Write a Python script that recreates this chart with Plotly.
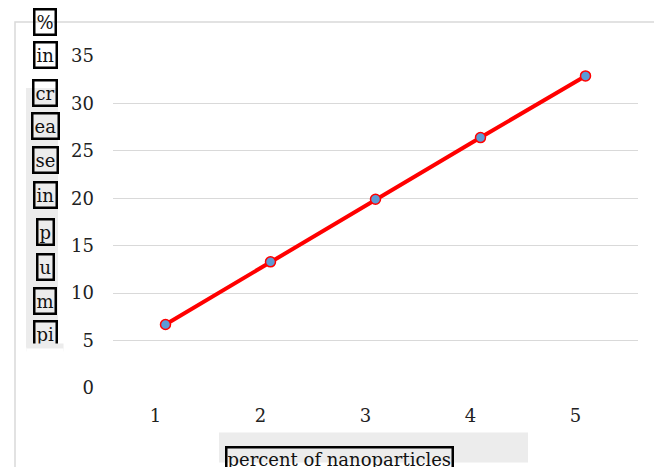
import plotly.graph_objects as go

# data
percent = [1, 2, 3, 4, 5]
increase = [6.7, 13.3, 19.9, 26.4, 32.9]
y_ticks = [0, 5, 10, 15, 20, 25, 30, 35]
y_title_parts = ["%", "in", "cr", "ea", "se", "in", "p", "u", "m", "pi"]
x_title = "percent of nanoparticles"

# the page has an 8px body margin, so the figure is shifted by that
OFF = 8
W, H = 662 - OFF, 467 - OFF
L, R, T, B = 105, 24, 48, 78.5
PW, PH = W - L - R, H - T - B
FONT = "DejaVu Serif, Liberation Serif, serif"


def px(x):
    return (x - OFF - L) / PW


def py(y):
    return (H - B - (y - OFF)) / PH


fig = go.Figure()
fig.add_trace(go.Scatter(x=percent, y=increase, mode="lines+markers",
                         line=dict(color="#ff0000", width=4),
                         marker=dict(size=10, color="#5b9bd5",
                                     line=dict(color="#ff0000", width=1.5)),
                         showlegend=False, cliponaxis=False))

shapes = [
    # outer chart border
    dict(type="rect", xref="paper", yref="paper",
         x0=px(15), x1=px(660), y0=py(490), y1=py(22),
         line=dict(color="#d9d9d9", width=1.5), layer="below"),
    # grey box behind y title
    dict(type="rect", xref="paper", yref="paper",
         x0=px(26), x1=px(58), y0=py(348), y1=py(88),
         fillcolor="#ececec", line=dict(width=0), layer="below"),
    # grey box behind x title
    dict(type="rect", xref="paper", yref="paper",
         x0=px(219), x1=px(528), y0=py(463), y1=py(433),
         fillcolor="#ececec", line=dict(width=0), layer="below"),
]

annotations = []
centers = [22, 55, 93, 126, 160, 195, 232, 267, 301, 334]
for txt, cy in zip(y_title_parts, centers):
    annotations.append(dict(text=txt, xref="paper", yref="paper",
                            x=px(45), y=py(cy), xanchor="center", yanchor="middle",
                            showarrow=False, font=dict(family=FONT, size=18, color="#111"),
                            bordercolor="black", borderwidth=2.5, borderpad=1))
# cut off the last box like the reference
annotations.append(dict(text="", xref="paper", yref="paper", x=px(45), y=py(343),
                        xanchor="center", yanchor="top", showarrow=False,
                        width=34, height=5, bgcolor="#ececec"))
annotations.append(dict(text="", xref="paper", yref="paper", x=px(45), y=py(348),
                        xanchor="center", yanchor="top", showarrow=False,
                        width=34, height=20, bgcolor="white"))
annotations.append(dict(text=x_title, xref="paper", yref="paper",
                        x=px(225), y=py(447), xanchor="left", yanchor="top",
                        showarrow=False, font=dict(family=FONT, size=18, color="#111"),
                        bordercolor="black", borderwidth=2.5, borderpad=0))

fig.update_layout(width=W, height=H, margin=dict(l=L, r=R, t=T, b=B),
                  plot_bgcolor="white", paper_bgcolor="white",
                  font=dict(family=FONT, size=18, color="#222"),
                  shapes=shapes, annotations=annotations)
fig.update_xaxes(range=[0.5, 5.5], tickvals=percent, showgrid=False, zeroline=False,
                 showline=False, ticks="", ticklabelshift=-10, ticklabelstandoff=15)
fig.update_yaxes(range=[0, 35], tickvals=y_ticks, showgrid=True, gridcolor="#d9d9d9",
                 gridwidth=1.3, zeroline=False, showline=False, ticks="",
                 ticklabelstandoff=18)

fig.write_html("out.html")
